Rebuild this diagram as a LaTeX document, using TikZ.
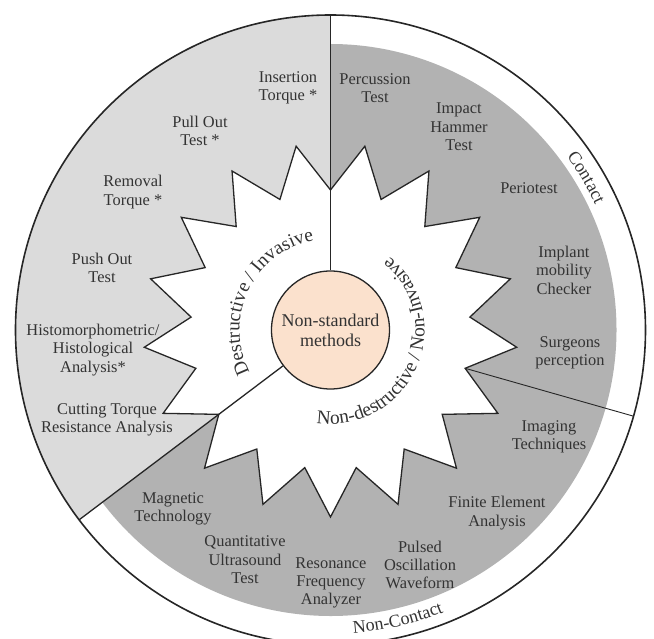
\documentclass[tikz,border=0pt]{standalone}
\usepackage{fontspec}
\setmainfont{Liberation Serif}
\usetikzlibrary{decorations.text}
\definecolor{invasivegray}{HTML}{DBDBDB}
\definecolor{noninvasivegray}{HTML}{B2B2B2}
\definecolor{corepeach}{HTML}{FBE1CD}
\newcommand{\ringfont}{\fontsize{19.4}{19.4}\selectfont}
\newcommand{\bandfont}{\fontsize{18}{18}\selectfont}

\begin{document}
\begin{tikzpicture}[x=1pt, y=1pt,
    method/.style={align=center, inner sep=0pt, text=black!80,
        font=\fontsize{16.4}{18.4}\selectfont},
    core/.style={circle, draw=black!85, line width=1.3pt, fill=corepeach,
        minimum size=118pt, inner sep=0pt, align=center, text=black!80,
        font=\fontsize{18}{20}\selectfont},
    divider/.style={line width=1.3pt, draw=black!85},
    thindivider/.style={line width=0.9pt, draw=black!85},
    rim/.style={line width=1.6pt, draw=black!85},
    starline/.style={line width=1.3pt, draw=black!85, fill=white}
]
    \useasboundingbox (-330.5,-309) rectangle (323.5,330);

    \fill[invasivegray] (0,0) -- (90:315) arc[start angle=90, end angle=217.06, radius=315] -- cycle;
    \fill[noninvasivegray] (0,0) -- (217.06:286) arc[start angle=217.06, end angle=450, radius=286] -- cycle;
    \draw[starline] (90:140)
        \foreach \k in {0,...,16} { -- ({90+(\k+0.5)*360/17}:187) -- ({90+(\k+1)*360/17}:140) } -- cycle;

    \node[core] (core) at (0,0) {Non-standard\\methods};
    \coordinate (rimtop) at (90:315);
    \coordinate (rimleft) at (217.06:315);
    \coordinate (valley) at (-15.88:140);
    \coordinate (rimright) at (-15.88:315);
    \draw[divider] (core) -- (rimtop);
    \draw[divider] (core) -- (rimleft);
    \draw[thindivider] (valley) -- (rimright);
    \draw[rim] (0,0) circle[radius=315];

    \node[method] (insertion) at (-42.5,242) {Insertion\\Torque *};
    \node[method] (pullout) at (-130.5,199) {Pull Out\\Test *};
    \node[method] (removal) at (-197.5,138) {Removal\\Torque *};
    \node[method] (pushout) at (-228.5,62) {Push Out\\Test};
    \node[method] (histo) at (-237.5,-20) {Histomorphometric/\\Histological\\Analysis*};
    \node[method] (cutting) at (-223.5,-90) {Cutting Torque\\Resistance Analysis};
    \node[method] (percussion) at (44.5,242) {Percussion\\Test};
    \node[method] (impact) at (128.5,203) {Impact\\Hammer\\Test};
    \node[method] (periotest) at (198.5,142) {Periotest};
    \node[method] (mobility) at (233.5,60) {Implant\\mobility\\Checker};
    \node[method] (surgeons) at (239.5,-23) {Surgeons\\perception};
    \node[method] (imaging) at (218.5,-107) {Imaging\\Techniques};
    \node[method] (finite) at (166.5,-183) {Finite Element\\Analysis};
    \node[method] (pulsed) at (89.5,-235) {Pulsed\\Oscillation\\Waveform};
    \node[method] (resonance) at (0.5,-253) {Resonance\\Frequency\\Analyzer};
    \node[method] (ultrasound) at (-85.5,-230) {Quantitative\\Ultrasound\\Test};
    \node[method] (magnetic) at (-157.5,-179) {Magnetic\\Technology};

    \path[decorate, decoration={text along path, text align=center,
        text={|\ringfont\color{black!80}|Destructive / Invasive}}]
        (244:91) arc[start angle=244, end angle=64, radius=91];
    \path[decorate, decoration={text along path, text align=center,
        text={|\ringfont\color{black!80}|Non-destructive / Non-Invasive}}]
        (-113.7:94) arc[start angle=-113.7, end angle=66.3, radius=94];
    \path[decorate, decoration={text along path, text align=center,
        text={|\bandfont\color{black!80}|Contact}}]
        (90.8:293) arc[start angle=90.8, end angle=-29.2, radius=293];
    \path[decorate, decoration={text along path, text align=center,
        text={|\bandfont\color{black!80}|Non-Contact}}]
        (-136.9:304) arc[start angle=-136.9, end angle=-16.9, radius=304];
\end{tikzpicture}
\end{document}
